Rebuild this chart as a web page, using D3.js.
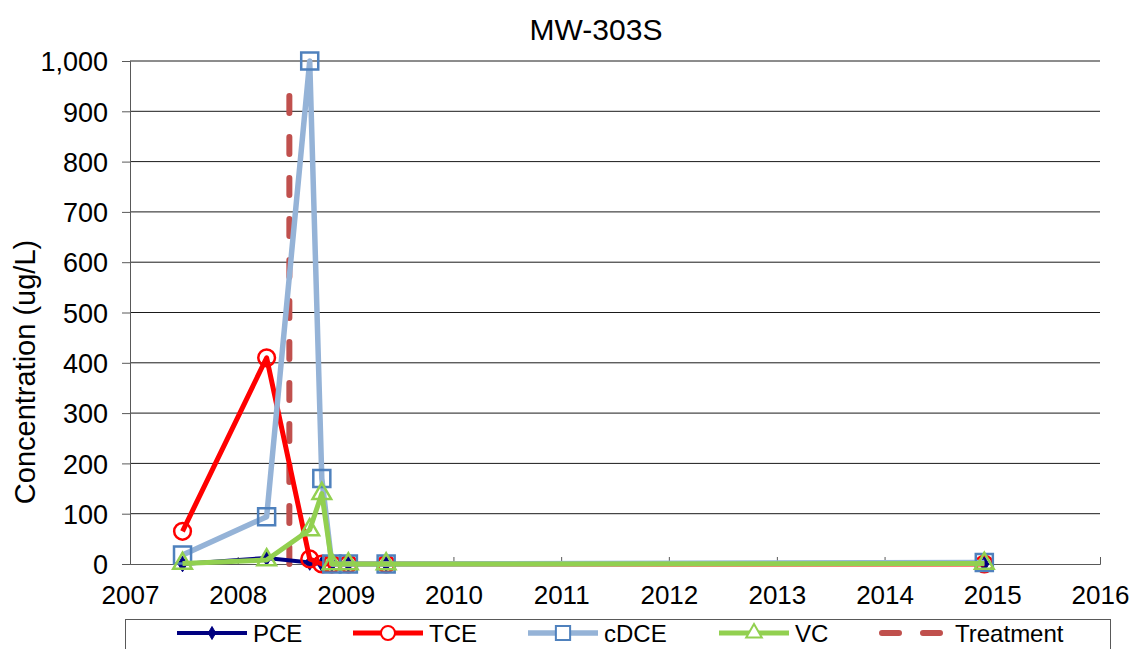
<!DOCTYPE html>
<html>
<head>
<meta charset="utf-8">
<script src="https://cdn.jsdelivr.net/npm/d3@7"></script>
<style>
  body { margin: 0; background: #fff; }
  text { font-family: "Liberation Sans", Arial, sans-serif; fill: #000; }
</style>
</head>
<body>
<script>
// sample dates and concentrations (ug/L)
var sampleDates = ["2007-06-28", "2008-04-08", "2008-09-01", "2008-10-12",
  "2008-11-15", "2009-01-10", "2009-05-18", "2014-12-05"];
var pce  = [0, 12, 3, 0, 0, 0, 0, 0];
var tce  = [65, 410, 10, 0, 0, 0, 0, 0];
var cdce = [18, 94, 1000, 170, 0, 0, 0, 3];
var vc   = [1, 8, 68, 140, 0, 0, 0, 1];

// treatment marker line
var treatDates = ["2008-06-24", "2008-06-24"];
var treatValues = [0, 950];

var yearTicks = [2007, 2008, 2009, 2010, 2011, 2012, 2013, 2014, 2015, 2016];
var yTicks = [0, 100, 200, 300, 400, 500, 600, 700, 800, 900, 1000];

var parse = d3.timeParse("%Y-%m-%d");

var margin = {top: 61, right: 35, bottom: 85, left: 130},
  width = 1135 - margin.left - margin.right,
  height = 649 - margin.top - margin.bottom;

var svg = d3.select("body").append("svg")
  .attr("width", 1135)
  .attr("height", 649);

var g = svg.append("g")
  .attr("transform", "translate(" + margin.left + "," + margin.top + ")");

var x = d3.scaleTime()
  .domain([new Date(2007, 0, 1), new Date(2016, 0, 1)])
  .range([0, width]);
var y = d3.scaleLinear().domain([0, 1000]).range([height, 0]);

// gridlines
g.append("g")
  .selectAll("line")
  .data(yTicks.slice(1))
  .enter().append("line")
  .attr("x1", 0).attr("x2", width)
  .attr("y1", function(d){ return y(d); })
  .attr("y2", function(d){ return y(d); })
  .attr("stroke", "#1a1a1a")
  .attr("stroke-width", 1);

// Y axis
var yAxis = g.append("g")
  .call(d3.axisLeft(y).tickValues(yTicks).tickFormat(d3.format(",")).tickSizeOuter(0).tickSize(8).tickPadding(14));
yAxis.selectAll("text").style("font-size", "27px").attr("dy", "0.36em");
yAxis.selectAll("line, path").attr("stroke", "#595959");

// X axis (ticks point up into the plot)
var xAxis = g.append("g")
  .attr("transform", "translate(0," + height + ")")
  .call(d3.axisBottom(x)
    .tickValues(yearTicks.map(function(d){ return new Date(d, 0, 1); }))
    .tickFormat(d3.timeFormat("%Y"))
    .tickSizeOuter(0)
    .tickSize(-7));
xAxis.selectAll("text").style("font-size", "26px").attr("y", 22).attr("dy", "0.71em");
xAxis.selectAll("line, path").attr("stroke", "#595959");

// treatment line
var treat = treatDates.map(function(d, i){ return {date: parse(d), value: treatValues[i]}; });
g.append("path")
  .datum(treat)
  .attr("d", d3.line()
    .x(function(d){ return x(d.date); })
    .y(function(d){ return y(d.value); }))
  .attr("fill", "none")
  .attr("stroke", "#C0504D")
  .attr("stroke-width", 6)
  .attr("stroke-linecap", "round")
  .attr("stroke-dasharray", "17,24");

var series = [
  {name: "PCE", values: pce, line: "#000080", lw: 4, mark: "#000080", sym: d3.symbolDiamond, size: 70, fill: "#000080"},
  {name: "TCE", values: tce, line: "#FF0000", lw: 5, mark: "#FF0000", sym: d3.symbolCircle, size: 220, fill: "none"},
  {name: "cDCE", values: cdce, line: "#95B3D7", lw: 5.5, mark: "#4F81BD", sym: d3.symbolSquare, size: 290, fill: "none"},
  {name: "VC", values: vc, line: "#92D050", lw: 5, mark: "#92D050", sym: d3.symbolTriangle, size: 150, fill: "none"}
];

var lineFun = d3.line()
  .x(function(d){ return x(d.date); })
  .y(function(d){ return y(d.value); });

series.forEach(function(s){
  var pts = sampleDates.map(function(d, i){ return {date: parse(d), value: s.values[i]}; });

  g.append("path")
    .datum(pts)
    .attr("d", lineFun)
    .attr("fill", "none")
    .attr("stroke", s.line)
    .attr("stroke-width", s.lw)
    .attr("stroke-linejoin", "round");

  g.selectAll(null)
    .data(pts)
    .enter().append("path")
    .attr("d", d3.symbol().type(s.sym).size(s.size))
    .attr("transform", function(d){ return "translate(" + x(d.date) + "," + y(d.value) + ")"; })
    .attr("fill", s.fill)
    .attr("stroke", s.mark)
    .attr("stroke-width", s.fill === "none" ? 2.5 : 1);
});

// title
svg.append("text")
  .attr("x", 596)
  .attr("y", 40)
  .attr("text-anchor", "middle")
  .style("font-size", "30px")
  .text("MW-303S");

// y axis title
svg.append("text")
  .attr("transform", "translate(35,372) rotate(-90)")
  .attr("text-anchor", "middle")
  .style("font-size", "29px")
  .text("Concentration (ug/L)");

// legend
var legend = svg.append("g");
legend.append("rect")
  .attr("x", 125.5).attr("y", 619.5)
  .attr("width", 985).attr("height", 40)
  .attr("fill", "#fff")
  .attr("stroke", "#595959");

var legendX = [177, 353, 528, 719];
series.forEach(function(s, i){
  var lx = legendX[i];
  legend.append("line")
    .attr("x1", lx).attr("x2", lx + 70)
    .attr("y1", 633).attr("y2", 633)
    .attr("stroke", s.line)
    .attr("stroke-width", s.lw);
  legend.append("path")
    .attr("d", d3.symbol().type(s.sym).size(s.size * 0.7))
    .attr("transform", "translate(" + (lx + 35) + ",633)")
    .attr("fill", s.fill === "none" ? "#fff" : s.fill)
    .attr("stroke", s.mark)
    .attr("stroke-width", s.fill === "none" ? 2 : 1);
  legend.append("text")
    .attr("x", lx + 76)
    .attr("y", 633)
    .attr("dy", "0.36em")
    .style("font-size", "24px")
    .text(s.name);
});

legend.append("line")
  .attr("x1", 882).attr("x2", 944)
  .attr("y1", 633).attr("y2", 633)
  .attr("stroke", "#C0504D")
  .attr("stroke-width", 6)
  .attr("stroke-linecap", "round")
  .attr("stroke-dasharray", "17,24");
legend.append("text")
  .attr("x", 955)
  .attr("y", 633)
  .attr("dy", "0.36em")
  .style("font-size", "24px")
  .text("Treatment");
</script>
</body>
</html>
